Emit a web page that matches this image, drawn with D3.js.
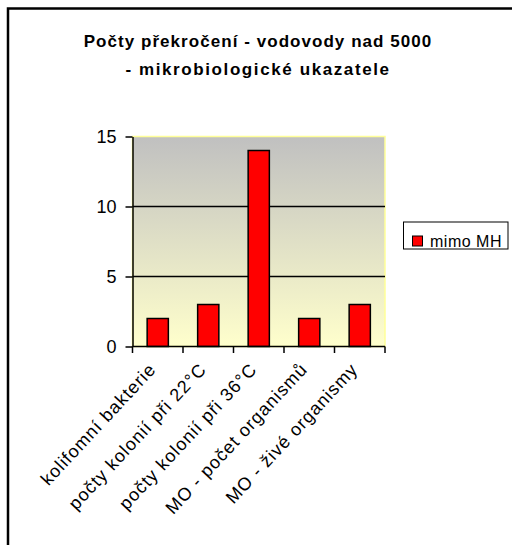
<!DOCTYPE html>
<html>
<head>
<meta charset="utf-8">
<script src="https://cdn.jsdelivr.net/npm/d3@7/dist/d3.min.js"></script>
<style>
  html, body { margin: 0; padding: 0; background: #fff; }
  svg { display: block; font-family: "Liberation Sans", Arial, sans-serif; }
</style>
</head>
<body>
<svg id="chart" width="512" height="545"></svg>
<script>
const titleLines = ["Počty překročení - vodovody nad 5000", "- mikrobiologické ukazatele"];
const categories = ["kolifomní bakterie", "počty kolonií při 22°C", "počty kolonií při 36°C", "MO - počet organismů", "MO - živé organismy"];
const values = [2, 3, 14, 2, 3];
const yTicks = [0, 5, 10, 15];
const seriesName = "mimo MH";

const svg = d3.select("#chart");

// outer chart border (cropped at right/bottom)
svg.append("rect")
  .attr("x", 8).attr("y", 8.5).attr("width", 530).attr("height", 560)
  .attr("fill", "#fff").attr("stroke", "#000").attr("stroke-width", 2.5);

// title
const tSpacing = [1.05, 1.6];
svg.append("g").selectAll("text").data(titleLines).join("text")
  .attr("x", 258).attr("y", (d, i) => 47 + i * 28)
  .attr("text-anchor", "middle")
  .attr("font-size", 17).attr("font-weight", "bold")
  .attr("letter-spacing", (d, i) => tSpacing[i])
  .text(d => d);

const plot = { left: 132.5, right: 385, top: 136.5, bottom: 346.5 };

const x = d3.scaleBand().domain(categories)
  .range([plot.left, plot.right]).paddingInner(0.58).paddingOuter(0.29);
const y = d3.scaleLinear().domain([0, 15]).range([plot.bottom, plot.top]);

// gradient background
const defs = svg.append("defs");
const grad = defs.append("linearGradient").attr("id", "bg")
  .attr("x1", 0).attr("y1", 0).attr("x2", 0).attr("y2", 1);
grad.append("stop").attr("offset", "0%").attr("stop-color", "#c0c0c0");
grad.append("stop").attr("offset", "100%").attr("stop-color", "#ffffcc");

svg.append("rect")
  .attr("x", plot.left).attr("y", plot.top)
  .attr("width", plot.right - plot.left).attr("height", plot.bottom - plot.top)
  .attr("fill", "url(#bg)").attr("stroke", "#ffff99").attr("stroke-width", 1.5);

// gridlines
svg.append("g").selectAll("line").data(yTicks.filter(t => t > 0 && t < 15)).join("line")
  .attr("x1", plot.left).attr("x2", plot.right)
  .attr("y1", d => y(d)).attr("y2", d => y(d))
  .attr("stroke", "#000").attr("stroke-width", 1.5);

// bars
svg.append("g").selectAll("rect").data(values).join("rect")
  .attr("x", (d, i) => x(categories[i]))
  .attr("y", d => y(d))
  .attr("width", x.bandwidth())
  .attr("height", d => y(0) - y(d))
  .attr("fill", "#ff0000").attr("stroke", "#000").attr("stroke-width", 1.5);

// y axis
const yAxis = svg.append("g")
  .attr("transform", `translate(${plot.left},0)`)
  .call(d3.axisLeft(y).tickValues(yTicks).tickSize(7).tickSizeOuter(0).tickPadding(9));
yAxis.select(".domain").attr("stroke", "#000").attr("stroke-width", 1.5);
yAxis.selectAll(".tick line").attr("stroke", "#000").attr("stroke-width", 1.5);
yAxis.selectAll(".tick text").attr("font-size", 18).attr("fill", "#000")
  .attr("font-family", "Liberation Sans, Arial, sans-serif");

// x axis
const gap = (x.step() - x.bandwidth()) / 2;
const xb = categories.map(c => x(c) - gap).concat([plot.right]);
const xAxis = svg.append("g");
xAxis.append("line")
  .attr("x1", plot.left).attr("x2", plot.right)
  .attr("y1", plot.bottom).attr("y2", plot.bottom)
  .attr("stroke", "#000").attr("stroke-width", 1.5);
xAxis.selectAll("line.tk").data(xb).join("line").attr("class", "tk")
  .attr("x1", d => d).attr("x2", d => d)
  .attr("y1", plot.bottom).attr("y2", plot.bottom + 6.5)
  .attr("stroke", "#000").attr("stroke-width", 1.5);

xAxis.selectAll("text").data(categories).join("text")
  .attr("transform", d => `translate(${x(d) + x.bandwidth() / 2 - 1.5},${371}) rotate(-47)`)
  .attr("text-anchor", "end")
  .attr("dx", 1)
  .attr("font-size", 18)
  .attr("letter-spacing", 1)
  .attr("fill", "#000")
  .text(d => d);

// legend
const lg = svg.append("g");
lg.append("rect").attr("x", 403.5).attr("y", 222).attr("width", 104.5).attr("height", 27)
  .attr("fill", "#fff").attr("stroke", "#000").attr("stroke-width", 1);
lg.append("rect").attr("x", 412.5).attr("y", 236).attr("width", 10).attr("height", 10)
  .attr("fill", "#ff0000").attr("stroke", "#000").attr("stroke-width", 1);
lg.append("text").attr("x", 430).attr("y", 246.5)
  .attr("font-size", 16).attr("letter-spacing", 0.5).attr("fill", "#000")
  .text(seriesName);
</script>
</body>
</html>
